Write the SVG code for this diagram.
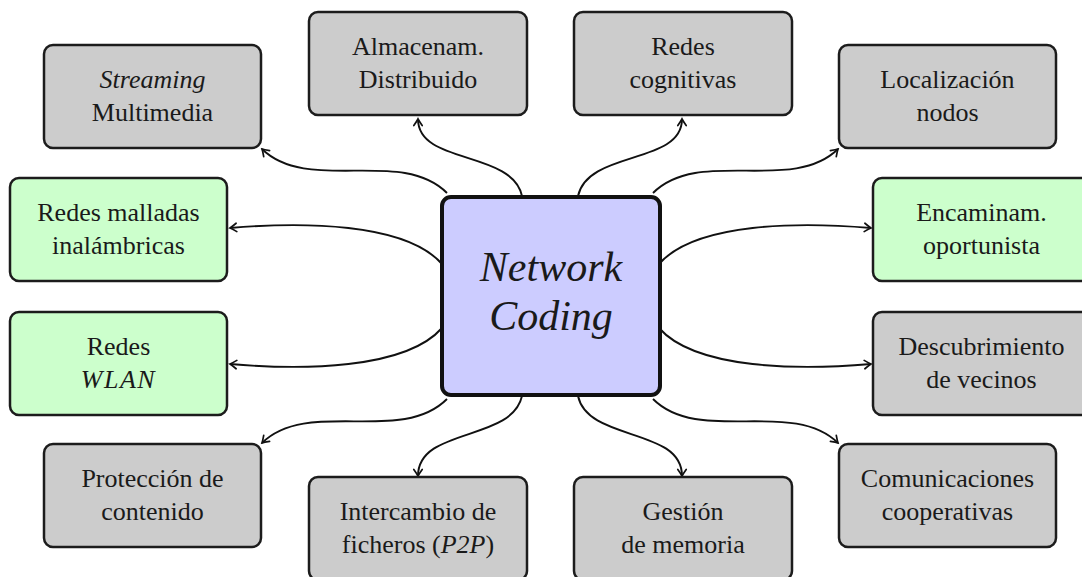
<svg xmlns="http://www.w3.org/2000/svg" width="1082" height="577" viewBox="0 0 1082 577">
  <style>
    .box { stroke: #1c1c1c; stroke-width: 2.5; }
    .gray { fill: #cccccc; }
    .green { fill: #ccffcc; }
    .hub { fill: #ccccff; stroke: #111; stroke-width: 4; }
    .lbl { font-size: 26px; fill: #1a1a1a; text-anchor: middle; }
    .it { font-style: italic; }
    .big { font-size: 42px; font-style: italic; fill: #1a1a1a; text-anchor: middle; }
    .edge { fill: none; stroke: #111; stroke-width: 1.9; marker-end: url(#tip); }
  </style>
  <defs>
    <marker id="tip" viewBox="-8 -6 10 12" refX="0" refY="0" markerWidth="10" markerHeight="12" markerUnits="userSpaceOnUse" orient="auto">
      <path d="M-6.5,-4.2 Q-2,-1 0,0 Q-2,1 -6.5,4.2" fill="none" stroke="#111" stroke-width="1.7" stroke-linecap="round"/>
    </marker>
  </defs>

  <rect width="1082" height="577" fill="#ffffff"/>

  <!-- connectors from the central node -->
  <g id="connectors">
    <path class="edge" d="M447,193 C401,147 308,194 262,149"/>
    <path class="edge" d="M522,196 C512,150 418,165 418,119"/>
    <path class="edge" d="M578,196 C588,150 682,165 682,119"/>
    <path class="edge" d="M653,193 C699,147 792,194 838,149"/>
    <path class="edge" d="M442,264 C405,222 300,222 230,228"/>
    <path class="edge" d="M659,264 C696,222 801,222 871,228"/>
    <path class="edge" d="M442,328 C405,370 300,370 230,364"/>
    <path class="edge" d="M659,328 C696,370 801,370 871,364"/>
    <path class="edge" d="M447,399 C401,445 308,398 262,443"/>
    <path class="edge" d="M522,396 C512,442 418,427 418,476"/>
    <path class="edge" d="M578,396 C588,442 682,427 682,476"/>
    <path class="edge" d="M653,399 C699,445 792,398 838,443"/>
  </g>

  <g font-family="'Liberation Serif', 'Tinos', 'Times New Roman', 'DejaVu Serif', serif">
    <!-- central node -->
    <g id="network-coding">
      <rect class="hub" x="442" y="197" width="218" height="198" rx="9"/>
      <text class="big" x="551" y="281">Network</text>
      <text class="big" x="551" y="330">Coding</text>
    </g>

    <g id="streaming">
      <rect class="box gray" x="44" y="45" width="217" height="103" rx="9"/>
      <text class="lbl it" x="152.5" y="88">Streaming</text>
      <text class="lbl" x="152.5" y="121">Multimedia</text>
    </g>

    <g id="almacenamiento">
      <rect class="box gray" x="309" y="12" width="218" height="103" rx="9"/>
      <text class="lbl" x="418" y="55">Almacenam.</text>
      <text class="lbl" x="418" y="88">Distribuido</text>
    </g>

    <g id="redes-cognitivas">
      <rect class="box gray" x="574" y="12" width="218" height="103" rx="9"/>
      <text class="lbl" x="683" y="55">Redes</text>
      <text class="lbl" x="683" y="88">cognitivas</text>
    </g>

    <g id="localizacion">
      <rect class="box gray" x="839" y="45" width="217" height="103" rx="9"/>
      <text class="lbl" x="947.5" y="88">Localización</text>
      <text class="lbl" x="947.5" y="121">nodos</text>
    </g>

    <g id="redes-malladas">
      <rect class="box green" x="10" y="178" width="217" height="103" rx="9"/>
      <text class="lbl" x="118.5" y="221">Redes malladas</text>
      <text class="lbl" x="118.5" y="254">inalámbricas</text>
    </g>

    <g id="encaminamiento">
      <rect class="box green" x="873" y="178" width="217" height="103" rx="9"/>
      <text class="lbl" x="981.5" y="221">Encaminam.</text>
      <text class="lbl" x="981.5" y="254">oportunista</text>
    </g>

    <g id="redes-wlan">
      <rect class="box green" x="10" y="312" width="217" height="103" rx="9"/>
      <text class="lbl" x="118.5" y="355">Redes</text>
      <text class="lbl it" x="118.5" y="388" letter-spacing="1.5">WLAN</text>
    </g>

    <g id="descubrimiento">
      <rect class="box gray" x="873" y="312" width="217" height="103" rx="9"/>
      <text class="lbl" x="981.5" y="355">Descubrimiento</text>
      <text class="lbl" x="981.5" y="388">de vecinos</text>
    </g>

    <g id="proteccion">
      <rect class="box gray" x="44" y="444" width="217" height="103" rx="9"/>
      <text class="lbl" x="152.5" y="487">Protección de</text>
      <text class="lbl" x="152.5" y="520">contenido</text>
    </g>

    <g id="intercambio">
      <rect class="box gray" x="309" y="477" width="218" height="103" rx="9"/>
      <text class="lbl" x="418" y="520">Intercambio de</text>
      <text class="lbl" x="418" y="553">ficheros (<tspan class="it">P2P</tspan>)</text>
    </g>

    <g id="gestion">
      <rect class="box gray" x="574" y="477" width="218" height="103" rx="9"/>
      <text class="lbl" x="683" y="520">Gestión</text>
      <text class="lbl" x="683" y="553">de memoria</text>
    </g>

    <g id="comunicaciones">
      <rect class="box gray" x="839" y="444" width="217" height="103" rx="9"/>
      <text class="lbl" x="947.5" y="487">Comunicaciones</text>
      <text class="lbl" x="947.5" y="520">cooperativas</text>
    </g>
  </g>
</svg>
